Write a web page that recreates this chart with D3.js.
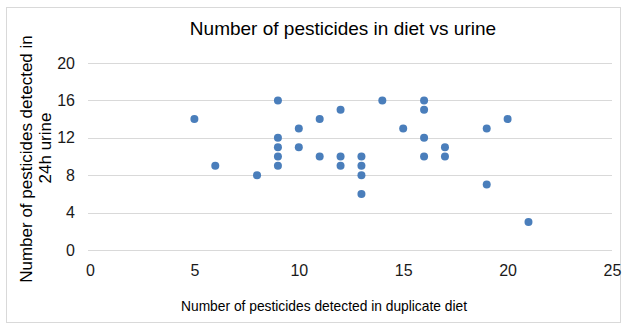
<!DOCTYPE html>
<html>
<head>
	<meta charset='utf-8'>
	<title>Pesticides scatter</title>
	<script type='text/javascript' src='https://cdn.jsdelivr.net/npm/d3@7'></script>
	<style>
		body { margin: 0; background: #fff; }
		text { font-family: 'Liberation Sans', Arial, sans-serif; }
	</style>
</head>
<body>
	<svg width='622' height='324'></svg>
	<script type='text/javascript'>

		// data
		const dietCounts = [5, 6, 8, 9, 9, 9, 9, 9, 10, 10, 11, 11, 12, 12, 12, 13, 13, 13, 13, 14, 15, 16, 16, 16, 16, 17, 17, 19, 19, 20, 21]
		const urineCounts = [14, 9, 8, 16, 12, 11, 10, 9, 13, 11, 14, 10, 15, 10, 9, 10, 9, 8, 6, 16, 13, 16, 15, 12, 10, 11, 10, 13, 7, 14, 3]
		const xTicks = [0, 5, 10, 15, 20, 25]
		const yTicks = [0, 4, 8, 12, 16, 20]

		const points = dietCounts.map((d, i) => ({ x: d, y: urineCounts[i] }))

		const svg = d3.select('svg')

		// outer chart border
		svg.append('rect')
			.attr('x', 6.5).attr('y', 7.5)
			.attr('width', 614).attr('height', 315)
			.attr('fill', 'none')
			.attr('stroke', '#d9d9d9')

		const xScale = d3.scaleLinear().domain([0, 25]).range([90, 612])
		const yScale = d3.scaleLinear().domain([0, 20]).range([250, 63])

		// gridlines
		svg.append('g')
			.selectAll('line')
			.data(yTicks)
			.enter()
			.append('line')
			.attr('x1', 88).attr('x2', 612)
			.attr('y1', d => Math.round(yScale(d)) + 0.5)
			.attr('y2', d => Math.round(yScale(d)) + 0.5)
			.attr('stroke', '#d9d9d9')
			.attr('stroke-width', 1)

		// axes, only the labels are kept
		const yAxis = d3.axisLeft(yScale).tickValues(yTicks).tickSize(0).tickPadding(15)
		const xAxis = d3.axisBottom(xScale).tickValues(xTicks).tickSize(0).tickPadding(15)

		const gy = svg.append('g').attr('transform', 'translate(90,0)').call(yAxis)
		const gx = svg.append('g').attr('transform', 'translate(0,250)').call(xAxis)
		gy.select('.domain').remove()
		gx.select('.domain').remove()
		svg.selectAll('.tick text')
			.attr('font-size', '16px')
			.attr('font-family', "'Liberation Sans', Arial, sans-serif")
			.attr('fill', '#1a1a1a')

		// points
		svg.append('g')
			.selectAll('circle')
			.data(points)
			.enter()
			.append('circle')
			.attr('cx', d => xScale(d.x))
			.attr('cy', d => yScale(d.y))
			.attr('r', 4)
			.attr('fill', '#4a7ebb')

		// title
		svg.append('text')
			.attr('x', 343).attr('y', 35)
			.attr('text-anchor', 'middle')
			.attr('font-size', '19px')
			.attr('fill', '#000')
			.text('Number of pesticides in diet vs urine')

		// x title (a bit narrow in the original)
		svg.append('text')
			.attr('x', 324).attr('y', 311)
			.attr('text-anchor', 'middle')
			.attr('font-size', '15px')
			.attr('textLength', 286)
			.attr('lengthAdjust', 'spacingAndGlyphs')
			.attr('fill', '#000')
			.text('Number of pesticides detected in duplicate diet')

		// y title in two lines
		svg.append('text')
			.attr('transform', 'translate(32,159) rotate(-90)')
			.attr('text-anchor', 'middle')
			.attr('font-size', '17px')
			.attr('fill', '#000')
			.text('Number of pesticides detected in')
		svg.append('text')
			.attr('transform', 'translate(51,148) rotate(-90)')
			.attr('text-anchor', 'middle')
			.attr('font-size', '17px')
			.attr('fill', '#000')
			.text('24h urine')

	</script>
</body>
</html>
